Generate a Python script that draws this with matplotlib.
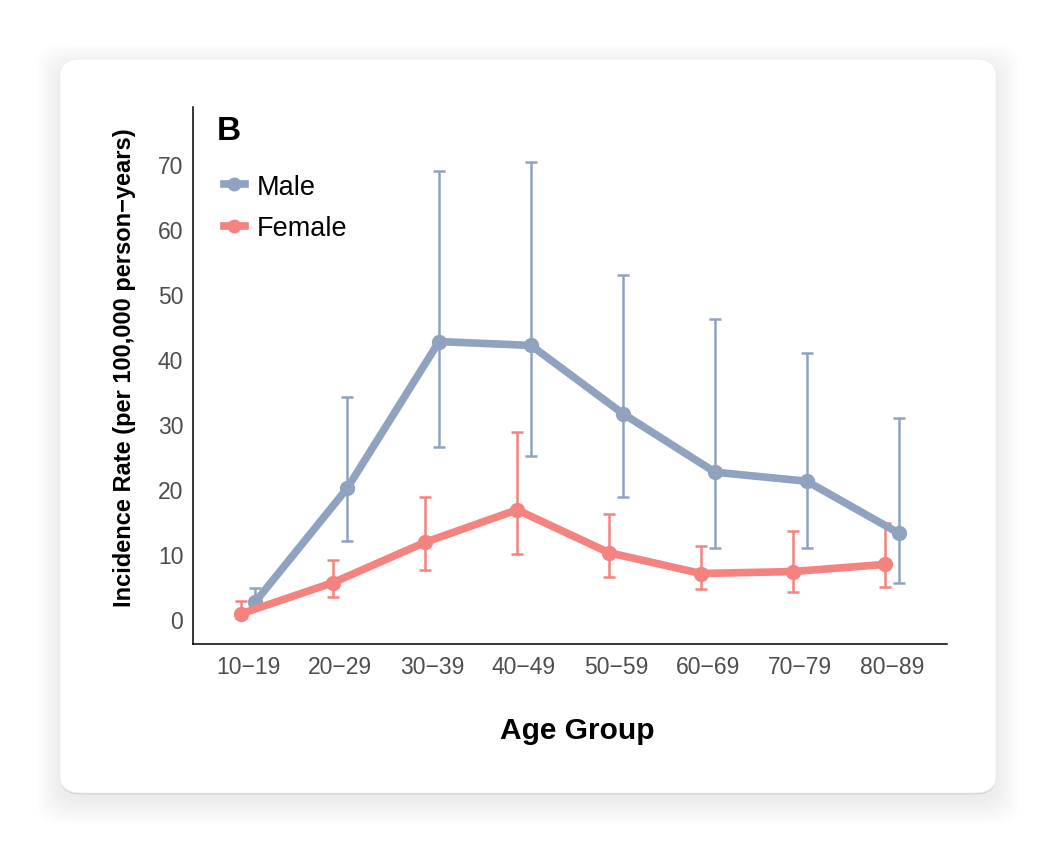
import matplotlib.pyplot as plt
import numpy as np
from matplotlib.patches import FancyBboxPatch
from matplotlib.lines import Line2D

plt.rcParams['font.family'] = ['Liberation Sans', 'DejaVu Sans']

age_groups = ['10\u221219', '20\u221229', '30\u221239', '40\u221249',
              '50\u221259', '60\u221269', '70\u221279', '80\u221289']

male = [2.6, 20.1, 42.7, 42.1, 31.6, 22.6, 21.2, 13.2]
male_lo = [1.5, 12.0, 26.5, 25.1, 18.8, 11.0, 10.9, 5.6]
male_hi = [4.8, 34.2, 69.0, 70.4, 53.0, 46.2, 40.9, 30.9]

female = [0.8, 5.6, 11.8, 16.8, 10.2, 7.0, 7.3, 8.4]
female_lo = [0.2, 3.4, 7.5, 10.0, 6.5, 4.6, 4.1, 4.9]
female_hi = [2.8, 9.1, 18.8, 28.8, 16.2, 11.2, 13.5, 14.8]

male_col = '#8FA2C0'
female_col = '#F4827F'

fig = plt.figure(figsize=(10.56, 8.54), dpi=100)
fig.patch.set_facecolor('white')

# card with soft shadow
x0, y0 = 60 / 1056, (854 - 794) / 854
w, h = (996 - 60) / 1056, (794 - 60) / 854
for i in range(18, 0, -1):
    dx = i * 1.3 / 1056
    dy = i * 1.3 / 854
    sh = FancyBboxPatch((x0 - dx, y0 - dy - 8 / 854), w + 2 * dx, h + 2 * dy,
                        boxstyle='round,pad=0,rounding_size=0.025',
                        transform=fig.transFigure, facecolor='black',
                        edgecolor='none', alpha=0.0035, zorder=-3)
    fig.patches.append(sh)
edge = FancyBboxPatch((x0, y0 - 1.5 / 854), w, h, boxstyle='round,pad=0,rounding_size=0.02',
                      transform=fig.transFigure, facecolor='black',
                      edgecolor='none', alpha=0.12, zorder=-2)
fig.patches.append(edge)
card = FancyBboxPatch((x0, y0), w, h, boxstyle='round,pad=0,rounding_size=0.02',
                      transform=fig.transFigure, facecolor='white',
                      edgecolor='#f0f0f0', linewidth=0.6, zorder=-1)
fig.patches.append(card)

ax = fig.add_axes([193 / 1056, (854 - 645) / 854, (947 - 193) / 1056, (645 - 108) / 854])
ax.set_facecolor('none')

x = np.arange(1, len(age_groups) + 1)
dodge = 0.076

def draw(xs, vals, lo, hi, col, label):
    vals = np.array(vals)
    yerr = [vals - np.array(lo), np.array(hi) - vals]
    ax.errorbar(xs, vals, yerr=yerr, fmt='none', ecolor=col, elinewidth=1.8,
                capsize=4, capthick=1.8, zorder=2)
    ax.plot(xs, vals, color=col, linewidth=5.5, marker='o', markersize=10,
            solid_capstyle='round', label=label, zorder=3)

draw(x + dodge, male, male_lo, male_hi, male_col, 'Male')
draw(x - dodge, female, female_lo, female_hi, female_col, 'Female')

ax.set_xlim(0.4, 8.6)
ax.set_ylim(-3.85, 78.8)
ax.set_xticks(x)
ax.set_xticklabels(age_groups)
ax.set_yticks(np.arange(0, 71, 10))
ax.tick_params(axis='both', length=0, labelsize=16.5, colors='#4d4d4d', pad=8)
ax.tick_params(axis='y', pad=7)

for s in ['top', 'right']:
    ax.spines[s].set_visible(False)
for s in ['left', 'bottom']:
    ax.spines[s].set_color('black')
    ax.spines[s].set_linewidth(1.1)

ax.set_xlabel('Age Group', fontsize=21.5, fontweight='bold')
ax.xaxis.set_label_coords(0.51, -0.134)
ax.set_ylabel('Incidence Rate (per 100,000 person\u2212years)', fontsize=17,
              fontweight='bold')
ax.yaxis.set_label_coords(-0.076, 0.516)

ax.text(0.032, 0.985, 'B', transform=ax.transAxes, fontsize=24,
        fontweight='bold', va='top', ha='left')

handles = [Line2D([0], [0], color=male_col, lw=5.5, marker='o', markersize=9),
           Line2D([0], [0], color=female_col, lw=5.5, marker='o', markersize=9)]
ax.legend(handles, ['Male', 'Female'], loc='upper left',
          bbox_to_anchor=(0.02, 0.906), frameon=False, fontsize=19.5,
          handlelength=0.75, handletextpad=0.45, labelspacing=0.58,
          borderaxespad=0.2)

fig.savefig('out.png', dpi=100)
